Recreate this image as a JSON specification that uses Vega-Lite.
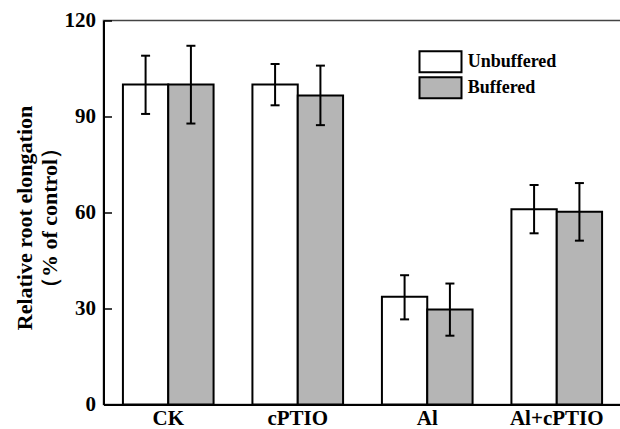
{
  "$schema": "https://vega.github.io/schema/vega-lite/v6.json",
  "autosize": {"type": "none"},
  "padding": {"left": 103.5, "top": 20.5, "right": 0, "bottom": 24.5},
  "width": 518,
  "height": 384,
  "background": "white",
  "data": {"values": [
    {"group": "CK", "treatment": "Unbuffered", "value": 100, "lo": 90.8, "hi": 109.0},
    {"group": "CK", "treatment": "Buffered", "value": 100, "lo": 87.8, "hi": 112.1},
    {"group": "cPTIO", "treatment": "Unbuffered", "value": 100, "lo": 93.5, "hi": 106.4},
    {"group": "cPTIO", "treatment": "Buffered", "value": 96.6, "lo": 87.3, "hi": 105.9},
    {"group": "Al", "treatment": "Unbuffered", "value": 33.7, "lo": 26.6, "hi": 40.4},
    {"group": "Al", "treatment": "Buffered", "value": 29.7, "lo": 21.5, "hi": 37.8},
    {"group": "Al+cPTIO", "treatment": "Unbuffered", "value": 61.0, "lo": 53.5, "hi": 68.6},
    {"group": "Al+cPTIO", "treatment": "Buffered", "value": 60.2, "lo": 51.2, "hi": 69.2}
  ]},
  "encoding": {
    "x": {
      "field": "group", "type": "nominal",
      "sort": ["CK", "cPTIO", "Al", "Al+cPTIO"],
      "scale": {"paddingInner": 0.3, "paddingOuter": 0.15},
      "axis": {"title": null, "labelAngle": 0, "ticks": false, "labelPadding": 3,
               "labelFontSize": 21, "labelFont": "Liberation Serif", "labelFontWeight": "bold",
               "labelColor": "black", "domainColor": "black", "domainWidth": 2}
    },
    "xOffset": {
      "field": "treatment", "type": "nominal",
      "sort": ["Unbuffered", "Buffered"],
      "scale": {"paddingInner": 0, "paddingOuter": 0}
    }
  },
  "layer": [
    {
      "mark": {"type": "bar", "stroke": "black", "strokeWidth": 2},
      "encoding": {
        "y": {
          "field": "value", "type": "quantitative",
          "scale": {"domain": [0, 120], "nice": false},
          "axis": {
            "values": [0, 30, 60, 90, 120],
            "grid": false,
            "tickSize": -8, "tickWidth": 1.5, "tickColor": "black",
            "labelPadding": 16,
            "labelFontSize": 21, "labelFont": "Liberation Serif", "labelFontWeight": "bold", "labelColor": "black",
            "domainColor": "black", "domainWidth": 2,
            "title": ["Relative root elongation", "（% of control）"],
            "titleFont": "Liberation Serif", "titleFontWeight": "bold", "titleFontSize": 22,
            "titleColor": "black", "titleAngle": -90, "titleAlign": "center", "titleBaseline": "alphabetic",
            "titleX": -72, "titleY": 197, "titleLineHeight": 25
          }
        },
        "fill": {
          "field": "treatment", "type": "nominal",
          "sort": ["Unbuffered", "Buffered"],
          "scale": {"domain": ["Unbuffered", "Buffered"], "range": ["#ffffff", "#b5b5b5"]},
          "legend": {
            "title": null, "orient": "none", "legendX": 325.5, "legendY": 29.8,
            "symbolType": "M-2,-1H2V1H-2Z", "symbolSize": 441,
            "symbolStrokeColor": "black", "symbolStrokeWidth": 2, "symbolOpacity": 1,
            "labelFont": "Liberation Serif", "labelFontWeight": "bold", "labelFontSize": 18,
            "labelColor": "black", "labelOffset": 15.7, "rowPadding": -4.8, "padding": 0
          }
        }
      }
    },
    {
      "mark": {"type": "rule", "stroke": "black", "strokeWidth": 2},
      "encoding": {
        "y": {"field": "lo", "type": "quantitative"},
        "y2": {"field": "hi"}
      }
    },
    {
      "mark": {"type": "tick", "color": "black", "size": 9, "thickness": 2},
      "encoding": {"y": {"field": "lo", "type": "quantitative"}}
    },
    {
      "mark": {"type": "tick", "color": "black", "size": 9, "thickness": 2},
      "encoding": {"y": {"field": "hi", "type": "quantitative"}}
    }
  ],
  "config": {
    "view": {"stroke": "#444444", "strokeWidth": 1.5},
    "tick": {"opacity": 1}
  }
}
